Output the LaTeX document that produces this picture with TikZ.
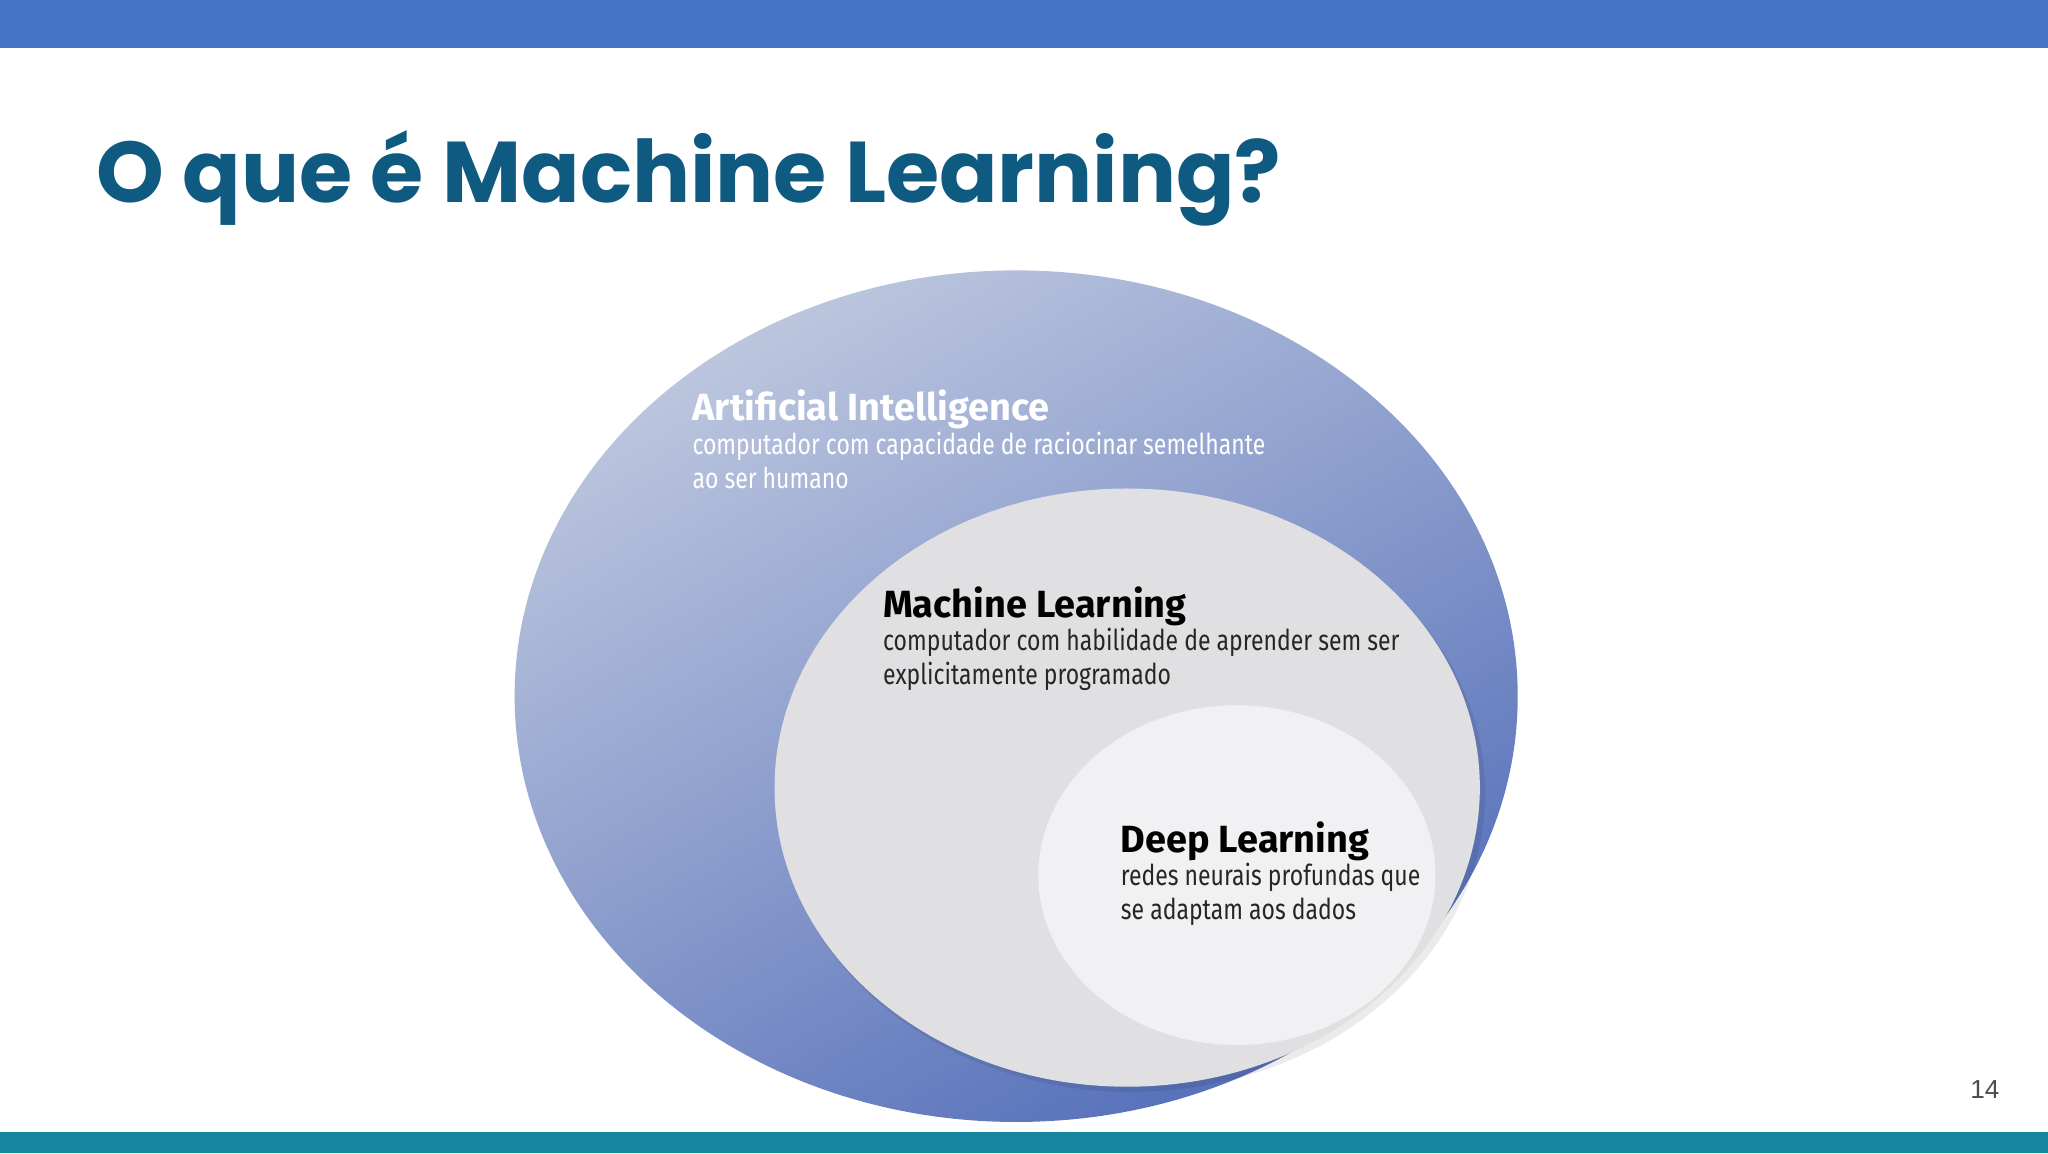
\documentclass[tikz,border=0pt]{standalone}
\usepackage{fontspec}
\setmainfont{Fira Sans}
\newfontfamily\titlefont{Poppins}
\newfontfamily\headfont{Fira Sans}
\newfontfamily\bodyfont{Fira Sans}[FakeStretch=0.8]
\newfontfamily\numfont{Liberation Sans}
\definecolor{topbar}{HTML}{4472C4}
\definecolor{botbar}{HTML}{17879F}
\definecolor{titlec}{HTML}{0E5A80}
\definecolor{aidark}{HTML}{5670BA}
\definecolor{ailight}{HTML}{BCC6DE}
\definecolor{mlc}{HTML}{E0E0E2}
\definecolor{dlc}{HTML}{F1F1F3}
\tikzset{
 hd/.style={anchor=base west,inner sep=0pt,font=\headfont\bfseries\fontsize{29}{32}\selectfont},
 bd/.style={anchor=base west,inner sep=0pt,font=\bodyfont\fontsize{22}{26}\selectfont},
}
\begin{document}
\begin{tikzpicture}[x=1pt,y=-1pt]
\useasboundingbox (0,0) rectangle (1568,883);
\fill[white] (0,0) rectangle (1568,883);
\fill[topbar] (0,0) rectangle (1568,37);
\fill[botbar] (0,867) rectangle (1568,883);
\node[anchor=base west,inner sep=0pt,text=titlec,font=\titlefont\bfseries\fontsize{66}{70}\selectfont] (title) at (74,155) {O que é Machine Learning?};
\shade[left color=ailight,right color=aidark,shading angle=30] (778,533) ellipse [x radius=384,y radius=326];
\fill[black,opacity=0.08] (866,607) ellipse [x radius=271,y radius=229];
\fill[mlc] (863,603) ellipse [x radius=270,y radius=229];
\fill[dlc] (947,670) ellipse [x radius=152,y radius=130];
\node[hd,text=white] (ai) at (530,322) {Artificial Intelligence};
\node[bd,text=white] (aib1) at (530,348) {computador com capacidade de raciocinar semelhante};
\node[bd,text=white] (aib2) at (530,374) {ao ser humano};
\node[hd,text=black] (ml) at (676,473) {Machine Learning};
\node[bd,text=black!85] (mlb1) at (676,498) {computador com habilidade de aprender sem ser};
\node[bd,text=black!85] (mlb2) at (676,524) {explicitamente programado};
\node[hd,text=black] (dl) at (858,653) {Deep Learning};
\node[bd,text=black!85] (dlb1) at (858,678) {redes neurais profundas que};
\node[bd,text=black!85] (dlb2) at (858,704) {se adaptam aos dados};
\node[anchor=base east,inner sep=0pt,text=black!70,font=\numfont\fontsize{20}{22}\selectfont] (pg) at (1531,841) {14};
\end{tikzpicture}
\end{document}
